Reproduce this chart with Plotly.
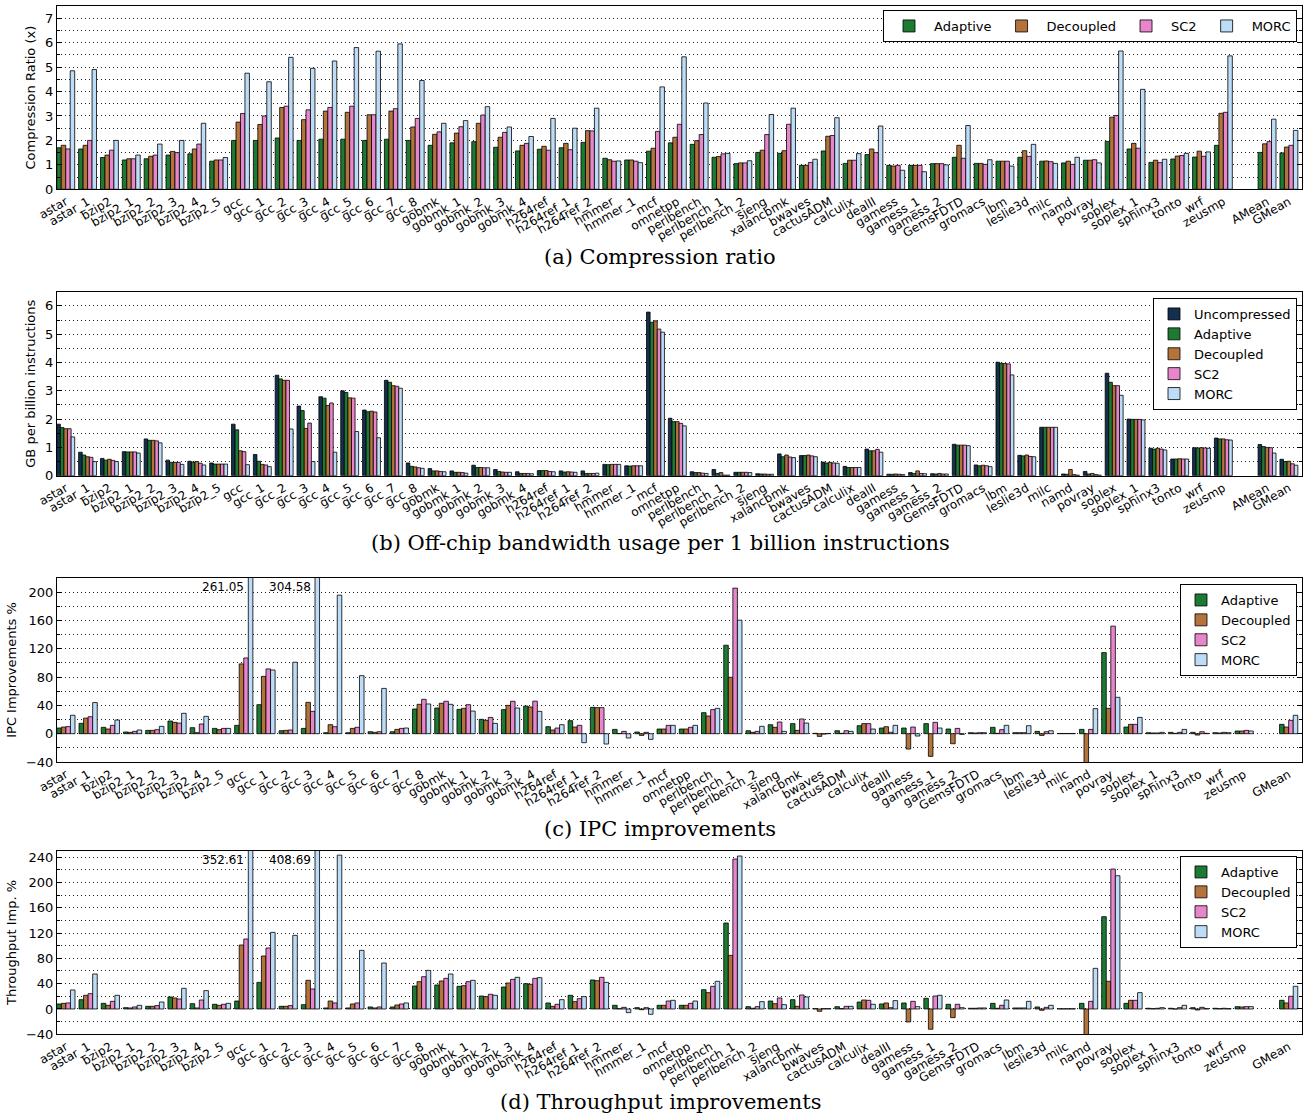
import plotly.graph_objects as go

bench = ["astar", "astar_1", "bzip2", "bzip2_1", "bzip2_2", "bzip2_3", "bzip2_4", "bzip2_5",
         "gcc", "gcc_1", "gcc_2", "gcc_3", "gcc_4", "gcc_5", "gcc_6", "gcc_7", "gcc_8",
         "gobmk", "gobmk_1", "gobmk_2", "gobmk_3", "gobmk_4", "h264ref", "h264ref_1", "h264ref_2",
         "hmmer", "hmmer_1", "mcf", "omnetpp", "perlbench", "perlbench_1", "perlbench_2", "sjeng",
         "xalancbmk", "bwaves", "cactusADM", "calculix", "dealII", "gamess", "gamess_1", "gamess_2",
         "GemsFDTD", "gromacs", "lbm", "leslie3d", "milc", "namd", "povray", "soplex", "soplex_1",
         "sphinx3", "tonto", "wrf", "zeusmp"]
means_ab = ["AMean", "GMean"]
means_cd = ["GMean"]

# (a) Compression ratio
cr_adaptive = [1.7, 1.65, 1.3, 1.2, 1.25, 1.4, 1.45, 1.15, 2.0, 2.0, 2.1, 2.0, 2.05, 2.05, 2.0, 2.05, 2.0,
               1.8, 1.9, 1.95, 1.72, 1.57, 1.64, 1.7, 1.92, 1.27, 1.2, 1.56, 1.9, 1.84, 1.31, 1.05, 1.51,
               1.47, 0.98, 1.57, 1.06, 1.42, 0.98, 0.98, 1.05, 1.31, 1.06, 1.15, 1.31, 1.15, 1.08, 1.19,
               1.96, 1.65, 1.1, 1.24, 1.32, 1.8]
cr_decoupled = [1.8, 1.8, 1.4, 1.25, 1.35, 1.55, 1.65, 1.2, 2.75, 2.65, 3.35, 2.85, 3.2, 3.15, 3.05, 3.2, 2.55,
                2.25, 2.3, 2.7, 2.13, 1.8, 1.76, 1.88, 2.4, 1.21, 1.2, 1.68, 2.13, 1.99, 1.34, 1.08, 1.6,
                1.58, 0.98, 2.17, 1.19, 1.65, 0.95, 0.98, 1.05, 1.8, 1.06, 1.15, 1.58, 1.16, 1.15, 1.19,
                2.95, 1.88, 1.19, 1.36, 1.56, 3.11]
cr_sc2 = [1.65, 2.0, 1.6, 1.25, 1.4, 1.5, 1.85, 1.2, 3.1, 3.0, 3.4, 3.25, 3.35, 3.4, 3.05, 3.3, 2.9,
          2.35, 2.56, 3.04, 2.33, 1.88, 1.6, 1.62, 2.39, 1.15, 1.15, 2.37, 2.66, 2.24, 1.45, 1.08, 2.24,
          2.66, 1.1, 2.2, 1.19, 1.5, 0.98, 0.98, 1.05, 1.27, 1.02, 1.15, 1.35, 1.13, 1.02, 1.21,
          3.02, 1.68, 1.09, 1.38, 1.35, 3.15]
cr_morc = [4.85, 4.9, 2.0, 1.4, 1.85, 2.0, 2.7, 1.3, 4.75, 4.4, 5.4, 4.95, 5.25, 5.8, 5.65, 5.95, 4.45,
           2.7, 2.81, 3.38, 2.55, 2.16, 2.9, 2.5, 3.32, 1.16, 1.09, 4.19, 5.42, 3.53, 1.47, 1.17, 3.06,
           3.32, 1.23, 2.93, 1.46, 2.59, 0.78, 0.72, 1.0, 2.61, 1.21, 0.95, 1.84, 1.06, 1.31, 1.08,
           5.66, 4.09, 1.23, 1.47, 1.53, 5.46]
cr_means = {"Adaptive": [1.51, 1.49], "Decoupled": [1.86, 1.73], "SC2": [1.95, 1.8], "MORC": [2.87, 2.41]}

# (b) Off-chip bandwidth (GB per billion instructions)
bw_uncomp = [1.82, 0.83, 0.61, 0.85, 1.3, 0.55, 0.51, 0.45, 1.82, 0.75, 3.55, 2.46, 2.79, 3.0, 2.32, 3.37, 0.45,
             0.25, 0.17, 0.37, 0.22, 0.14, 0.18, 0.17, 0.17, 0.4, 0.35, 5.78, 2.03, 0.14, 0.22, 0.12, 0.07,
             0.77, 0.71, 0.48, 0.33, 0.94, 0.05, 0.11, 0.07, 1.11, 0.38, 4.01, 0.72, 1.71, 0.06, 0.15,
             3.62, 2.0, 0.97, 0.59, 0.99, 1.33]
bw_adaptive = [1.7, 0.73, 0.55, 0.84, 1.25, 0.47, 0.48, 0.41, 1.62, 0.51, 3.42, 2.3, 2.74, 2.94, 2.26, 3.3, 0.33,
               0.17, 0.12, 0.29, 0.15, 0.08, 0.18, 0.13, 0.08, 0.39, 0.34, 5.42, 1.91, 0.11, 0.08, 0.12, 0.06,
               0.67, 0.71, 0.45, 0.29, 0.88, 0.05, 0.08, 0.06, 1.08, 0.35, 3.97, 0.7, 1.71, 0.05, 0.06,
               3.3, 1.99, 0.94, 0.59, 0.98, 1.3]
bw_decoupled = [1.66, 0.67, 0.58, 0.84, 1.25, 0.47, 0.5, 0.41, 0.88, 0.4, 3.37, 1.67, 2.48, 2.75, 2.28, 3.18, 0.31,
                0.17, 0.12, 0.29, 0.13, 0.08, 0.18, 0.14, 0.08, 0.4, 0.35, 5.47, 1.91, 0.11, 0.11, 0.12, 0.06,
                0.73, 0.73, 0.47, 0.29, 0.88, 0.06, 0.17, 0.08, 1.08, 0.37, 3.96, 0.73, 1.71, 0.22, 0.08,
                3.18, 1.99, 0.97, 0.6, 0.99, 1.3]
bw_sc2 = [1.66, 0.65, 0.54, 0.84, 1.23, 0.47, 0.44, 0.41, 0.85, 0.38, 3.37, 1.86, 2.57, 2.74, 2.25, 3.16, 0.28,
          0.15, 0.11, 0.28, 0.12, 0.08, 0.15, 0.13, 0.08, 0.4, 0.35, 5.18, 1.85, 0.09, 0.02, 0.12, 0.05,
          0.66, 0.7, 0.45, 0.29, 0.93, 0.05, 0.08, 0.06, 1.08, 0.35, 3.95, 0.68, 1.71, 0.04, 0.04,
          3.18, 1.99, 0.94, 0.59, 0.98, 1.27]
bw_morc = [1.37, 0.5, 0.5, 0.8, 1.16, 0.4, 0.38, 0.41, 0.39, 0.32, 1.65, 0.5, 0.83, 1.56, 1.34, 3.09, 0.26,
           0.14, 0.09, 0.28, 0.12, 0.07, 0.14, 0.12, 0.09, 0.4, 0.35, 5.07, 1.76, 0.08, 0.02, 0.11, 0.05,
           0.64, 0.67, 0.44, 0.29, 0.83, 0.04, 0.07, 0.06, 1.06, 0.32, 3.56, 0.67, 1.71, 0.02, 0.02,
           2.84, 1.97, 0.91, 0.59, 0.97, 1.26]
bw_means = {"Uncompressed": [1.1, 0.58], "Adaptive": [1.03, 0.5], "Decoupled": [1.0, 0.51],
            "SC2": [0.99, 0.42], "MORC": [0.8, 0.37]}

# (c) IPC improvements %
ipc_adaptive = [8, 14.6, 9, 2.4, 4.7, 17.9, 8.5, 7.5, 11.8, 41, 4.2, 7.5, 1.4, 1.4, 2.8, 2.8, 34.9,
                36.3, 34.4, 20.3, 34, 39, 9.9, 18.4, 37.3, 6.1, 2.4, 6.6, 6.6, 29.7, 125, 4.2, 12.7,
                14.2, 0.5, 4.2, 11.3, 8, 8, 14.2, 6.6, 1.4, 9, 1.4, 3.3, 0.3, 6.1, 114.6,
                9.4, 1.4, 1.9, 1.9, 1.4, 3.8]
ipc_decoupled = [9.4, 22, 6.6, 1.9, 4.7, 16, 1.4, 5.7, 98.6, 81, 4.7, 44.3, 12.7, 7.5, 1.9, 6.1, 41.5,
                 43, 35.8, 18.9, 40, 37.7, 5.2, 9.4, 36.8, 0.3, -2.4, 6.6, 6.6, 25, 79.7, 1.9, 9,
                 4.7, -3.8, 0.5, 14.2, 9.9, -21.7, -32, -14.2, 1, 0.5, 1.4, -2.4, 0.3, -45, 35.8,
                 13.2, 1, 0.5, -1.9, 1, 3.8]
ipc_sc2 = [10, 24, 11.8, 3.3, 5.7, 15, 13.7, 7.5, 107, 91.5, 5.2, 31.6, 9.9, 9, 2.8, 7.5, 48.6,
           45.8, 41, 23, 45.8, 46, 8, 11.8, 36.8, 3.3, 1.9, 11.8, 9, 34, 205.7, 3.3, 16.5,
           20.8, -0.5, 4.2, 14.2, 2, 9.4, 16, 7.5, 1.4, 5.7, 1.4, 2.8, 0.3, 6.1, 152,
           13.2, 1, 1.9, 2.8, 1.9, 4.7]
ipc_morc = [26, 44, 19.3, 5.2, 10.4, 28.8, 24.5, 7.5, 261.05, 90, 101, 304.58, 195.8, 82, 64, 8, 42,
            41.5, 32, 14.6, 36.3, 31.6, 12.7, -12.7, -14.6, -6.1, -8, 11.8, 11.8, 35.8, 160.4, 10.4, 3.3,
            15, 0.3, 3.3, 6.6, 11.8, -3.3, 8, -1, 1.4, 11.8, 11.3, 4.2, 0.3, 35.4, 51.4,
            23, 1.9, 6.1, 0.5, 1.4, 3.8]
ipc_means = {"Adaptive": [13.2], "Decoupled": [9.4], "SC2": [18.9], "MORC": [26]}

# (d) Throughput improvements %
tp_adaptive = [7.9, 14.7, 8.9, 2.1, 4.2, 19, 8.4, 7.4, 12.6, 42, 4.2, 6.8, 1.6, 1.6, 3.2, 3.2, 36.3,
               37.9, 35.8, 20.5, 34.7, 40, 9.5, 21.6, 45.8, 5.8, 2.1, 5.8, 5.8, 30.5, 135.8, 3.7, 12.6,
               14.7, 0.5, 3.7, 11, 7.9, 9.5, 16.8, 7.4, 1.1, 8.9, 1.6, 3.2, 0.3, 8.9, 145.8,
               8.9, 1.1, 1.1, 2.1, 1.1, 3.7]
tp_decoupled = [8.9, 21.6, 5.8, 1.6, 4.2, 17.4, 1.6, 5.8, 101, 83.7, 4.2, 45.3, 12.6, 7.9, 1.6, 6.3, 43.2,
                44.2, 36.8, 19.5, 41, 39, 4.2, 11.6, 44.7, 0.5, -1.1, 5.8, 5.8, 25.8, 84.7, 1.1, 8.4,
                4.2, -3.7, 0.5, 14.2, 9.5, -20.5, -32, -13.7, 1.1, 1.1, 1.6, -2.1, 0.3, -45, 43.7,
                13.7, 0.5, 0, -1.6, 0.5, 3.2]
tp_sc2 = [9.5, 24.2, 12.1, 3.2, 5.3, 15.8, 14.2, 7.4, 110.5, 96.3, 5.3, 31.6, 9.5, 9.5, 3.2, 7.9, 51,
          48.4, 43.2, 23.2, 46.8, 48.4, 7.4, 16.3, 50, 2.6, 2.1, 12.6, 8.9, 35.8, 236.8, 3.7, 17.4,
          22.1, 0.5, 4.2, 13.7, 2, 12.1, 20.5, 7.4, 1.6, 5.8, 1.6, 2.6, 0.3, 12.1, 221,
          13.7, 1.1, 2.1, 2.6, 1.1, 3.7]
tp_morc = [30, 55.3, 21.6, 5.8, 11, 32.6, 29, 8.9, 352.61, 121, 116.3, 408.69, 243, 92.6, 72.6, 9.5, 61,
           55.3, 45.3, 21.6, 50, 49.5, 14.7, 19.5, 42, -5.8, -8.4, 13.7, 12.6, 43.7, 241.6, 11.6, 6.8,
           19, 0.5, 4.2, 7.4, 13.2, 3.7, 21.6, 2.1, 1.6, 14.2, 12.1, 5.8, 0.3, 64.2, 210.5,
           25.8, 2.1, 5.8, 0.5, 0.5, 3.7]
tp_means = {"Adaptive": [13.7], "Decoupled": [9.5], "SC2": [20], "MORC": [35.8]}

colors = {"Uncompressed": "#13304f", "Adaptive": "#1c7a32", "Decoupled": "#b3733a",
          "SC2": "#e886cc", "MORC": "#bddcf7"}

cats_ab = bench + [""] + means_ab
cats_cd = bench + [""] + means_cd
x_ab = list(range(len(cats_ab)))
x_cd = list(range(len(cats_cd)))

W, H = 1307, 1117
XL, XR = 57, 1302
panels = [(6, 189.3), (291.7, 475.7), (578, 762), (850.7, 1034.3)]

fig = go.Figure()

def add_panel(idx, series, means, xs, legend_name):
    ax = "" if idx == 1 else str(idx)
    for name, vals in series:
        y = list(vals) + [None] + list(means[name])
        fig.add_trace(go.Bar(
            x=xs, y=y, name=name, marker=dict(color=colors[name], line=dict(color="black", width=0.8)),
            xaxis="x" + ax, yaxis="y" + ax, legend=legend_name, cliponaxis=True,
        ))

add_panel(1, [("Adaptive", cr_adaptive), ("Decoupled", cr_decoupled), ("SC2", cr_sc2), ("MORC", cr_morc)],
          cr_means, x_ab, "legend")
add_panel(2, [("Uncompressed", bw_uncomp), ("Adaptive", bw_adaptive), ("Decoupled", bw_decoupled),
              ("SC2", bw_sc2), ("MORC", bw_morc)], bw_means, x_ab, "legend2")
add_panel(3, [("Adaptive", ipc_adaptive), ("Decoupled", ipc_decoupled), ("SC2", ipc_sc2), ("MORC", ipc_morc)],
          ipc_means, x_cd, "legend3")
add_panel(4, [("Adaptive", tp_adaptive), ("Decoupled", tp_decoupled), ("SC2", tp_sc2), ("MORC", tp_morc)],
          tp_means, x_cd, "legend4")

GRID = "#222222"
DASH = "1px,3px"

def xax(i, xs, cats):
    return dict(domain=[XL / W, XR / W], range=[-0.4, len(cats) - 0.4], anchor="y" + ("" if i == 0 else str(i + 1)),
                tickmode="array", tickvals=xs, ticktext=cats, tickangle=-30,
                tickfont=dict(family="DejaVu Sans", size=12, color="black"),
                showline=True, mirror=True, linecolor="black", linewidth=1, ticks="",
                showgrid=False, zeroline=False, automargin=False)

def yax(i, rng, dtick, minor, title):
    top, bot = panels[i]
    return dict(domain=[1 - bot / H, 1 - top / H], range=rng, dtick=dtick, tick0=0,
                anchor="x" + ("" if i == 0 else str(i + 1)),
                showline=True, mirror="ticks", linecolor="black", linewidth=1,
                ticks="inside", ticklen=5, tickcolor="black",
                showgrid=True, gridcolor=GRID, griddash=DASH, gridwidth=1,
                minor=dict(dtick=minor, tick0=0, showgrid=True, gridcolor=GRID, griddash=DASH, gridwidth=1,
                           ticks="inside", ticklen=3, tickcolor="black"),
                zeroline=False, automargin=False,
                tickfont=dict(family="DejaVu Sans", size=13, color="black"),
                title=dict(text=title, font=dict(family="DejaVu Sans", size=13, color="black"), standoff=6))

leg_common = dict(bgcolor="white", bordercolor="black", borderwidth=1,
                  font=dict(family="DejaVu Sans", size=13, color="black"),
                  xanchor="right", yanchor="top", tracegroupgap=0)

fig.update_layout(
    width=W, height=H, margin=dict(l=0, r=0, t=0, b=0),
    paper_bgcolor="white", plot_bgcolor="white",
    barmode="group", bargap=0.18, bargroupgap=0,
    font=dict(family="DejaVu Sans", color="black"),
    xaxis=xax(0, x_ab, cats_ab), xaxis2=xax(1, x_ab, cats_ab),
    xaxis3=xax(2, x_cd, cats_cd), xaxis4=xax(3, x_cd, cats_cd),
    yaxis=yax(0, [0, 7.5], 1, 0.5, "Compression Ratio (x)"),
    yaxis2=yax(1, [0, 6.5], 1, 0.5, "GB per billion instructions"),
    yaxis3=yax(2, [-40, 220], 40, 20, "IPC Improvements %"),
    yaxis4=yax(3, [-40, 250], 40, 20, "Throughput Imp. %"),
    legend=dict(**leg_common, x=1297 / W, y=1 - 10 / H, orientation="h", itemwidth=40),
    legend2=dict(**leg_common, x=1297 / W, y=1 - 298 / H),
    legend3=dict(**leg_common, x=1297 / W, y=1 - 584 / H),
    legend4=dict(**leg_common, x=1297 / W, y=1 - 856 / H),
    showlegend=True,
)

captions = [("(a) Compression ratio", 257), ("(b) Off-chip bandwidth usage per 1 billion instructions", 543),
            ("(c) IPC improvements", 829), ("(d) Throughput improvements", 1102)]
for text, yp in captions:
    fig.add_annotation(text=text, xref="paper", yref="paper", x=660 / W, y=1 - yp / H,
                       xanchor="center", yanchor="middle", showarrow=False,
                       font=dict(family="DejaVu Serif", size=21, color="black"))

# labels for clipped MORC bars
for ax, morc, ypos in [("3", ipc_morc, 207), ("4", tp_morc, 235)]:
    for name in ["gcc", "gcc_3"]:
        i = bench.index(name)
        fig.add_annotation(text=f"{morc[i]:.2f}", xref="x" + ax, yref="y" + ax, x=i + 0.2, y=ypos,
                           xanchor="right", yanchor="middle", showarrow=False, xshift=-2,
                           font=dict(family="DejaVu Sans", size=12, color="black"))

fig.write_html("out.html", config={"displayModeBar": False},
               post_script="document.body.style.margin='0px';document.body.style.overflow='hidden';")
